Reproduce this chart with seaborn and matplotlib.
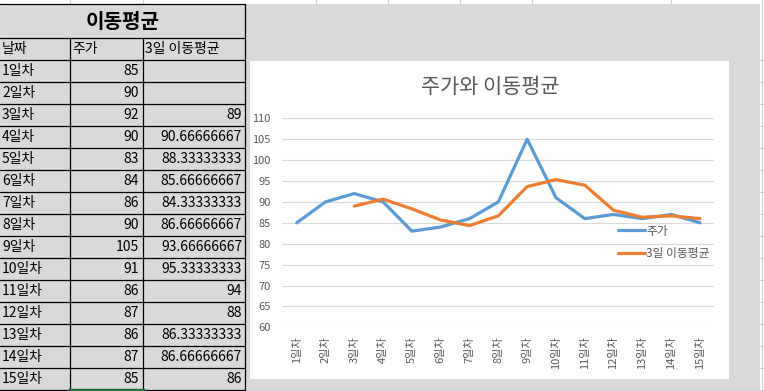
import numpy as np
import pandas as pd
import matplotlib
matplotlib.use("Agg")
import matplotlib.pyplot as plt
import seaborn as sns
from matplotlib.patches import Rectangle

# data from the sheet
days = ["1일차", "2일차", "3일차", "4일차", "5일차", "6일차", "7일차", "8일차",
        "9일차", "10일차", "11일차", "12일차", "13일차", "14일차", "15일차"]
price = [85, 90, 92, 90, 83, 84, 86, 90, 105, 91, 86, 87, 86, 87, 85]
ma3 = [np.nan, np.nan, 89, 90.66666667, 88.33333333, 85.66666667, 84.33333333,
       86.66666667, 93.66666667, 95.33333333, 94, 88, 86.33333333, 86.66666667, 86]
y_ticks = [60, 65, 70, 75, 80, 85, 90, 95, 100, 105, 110]

sns.set_style("white")
plt.rcParams["font.family"] = ["Noto Sans CJK KR", "DejaVu Sans"]

W, H = 764, 391
fig = plt.figure(figsize=(W / 100, H / 100), dpi=100)
fig.patch.set_facecolor("white")

# spreadsheet background drawn in pixel coords
bg = fig.add_axes([0, 0, 1, 1])
bg.set_xlim(0, W)
bg.set_ylim(H, 0)
bg.axis("off")

grid_c = "#D4D4D4"
for x in [70, 143, 316, 388, 460, 532, 671]:
    bg.plot([x, x], [0, 4], color=grid_c, lw=0.8)
for y in np.arange(60, H, 22):
    bg.plot([760, W], [y, y], color=grid_c, lw=0.8)
bg.plot([762, 762], [0, H], color=grid_c, lw=0.8)
bg.add_patch(Rectangle((0, 3.5), 760, H, facecolor="#D9D9D9", edgecolor="none"))

# table
row_top = 60
row_h = 22
tab_right = 244.5
col_x = [0, 70, 143, tab_right]
line_kw = dict(color="black", lw=0.9)
bg.plot([0, tab_right], [3.5, 3.5], **line_kw)
bg.plot([0, tab_right], [37.5, 37.5], **line_kw)
for i in range(len(days) + 1):
    y = row_top + i * row_h
    bg.plot([0, tab_right], [y, y], **line_kw)
bg.plot([tab_right, tab_right], [3.5, H], **line_kw)
for x in col_x[1:3]:
    bg.plot([x, x], [37.5, H], **line_kw)
bg.plot([69, 144], [390, 390], color="#217346", lw=2.5)

bg.text(tab_right / 2, 21, "이동평균", ha="center", va="center",
        fontsize=14.5, fontweight="bold", color="black")
hdr = ["날짜", "주가", "3일 이동평균"]
for x, t in zip(col_x[:3], hdr):
    bg.text(x + 2, 49, t, ha="left", va="center", fontsize=10, color="black")
for i, (d, p, m) in enumerate(zip(days, price, ma3)):
    yc = row_top + i * row_h + row_h / 2
    bg.text(2, yc, d, ha="left", va="center", fontsize=10, color="black")
    bg.text(139, yc, f"{p}", ha="right", va="center", fontsize=10, color="black")
    if not np.isnan(m):
        bg.text(242, yc, f"{m:.10g}", ha="right", va="center", fontsize=10, color="black")

# chart area
bg.add_patch(Rectangle((250, 61), 478.5, 317.5, facecolor="white", edgecolor="none"))
fig.text(490 / W, 1 - 87 / H, "주가와 이동평균", ha="center", va="center",
         fontsize=15, color="#595959")

df = pd.DataFrame({"날짜": days, "주가": price, "3일 이동평균": ma3})
ax = fig.add_axes([282.3 / W, 1 - 327.3 / H, (714.4 - 282.3) / W, (327.3 - 118.3) / H])
ax.set_facecolor("none")
sns.lineplot(data=df, x="날짜", y="주가", ax=ax, color="#5B9BD5", lw=2.3,
             label="주가", sort=False)
sns.lineplot(data=df, x="날짜", y="3일 이동평균", ax=ax, color="#ED7D31", lw=2.3,
             label="3일 이동평균", sort=False)
ax.set_xlim(-0.5, len(days) - 0.5)
ax.set_ylim(60, 110)
ax.set_yticks(y_ticks)
ax.yaxis.grid(True, color="#D9D9D9", lw=0.8)
ax.set_axisbelow(True)
for s in ax.spines.values():
    s.set_visible(False)
ax.set_xlabel("")
ax.set_ylabel("")
ax.tick_params(axis="y", length=0, pad=8.5, labelsize=8, labelcolor="#595959")
ax.tick_params(axis="x", length=0, pad=6.5, labelsize=8, labelcolor="#595959")
plt.setp(ax.get_xticklabels(), rotation=90, ha="center", va="top")

handles, labels = ax.get_legend_handles_labels()
ax.get_legend().remove()
fig.legend(handles, labels, loc="upper left", bbox_to_anchor=(618 / W, 1 - 224.5 / H),
           frameon=False, fontsize=8.5, labelcolor="#595959", handlelength=2.25,
           handletextpad=0.15, labelspacing=0.8, borderpad=0, borderaxespad=0)

fig.savefig("out.png", dpi=100)
